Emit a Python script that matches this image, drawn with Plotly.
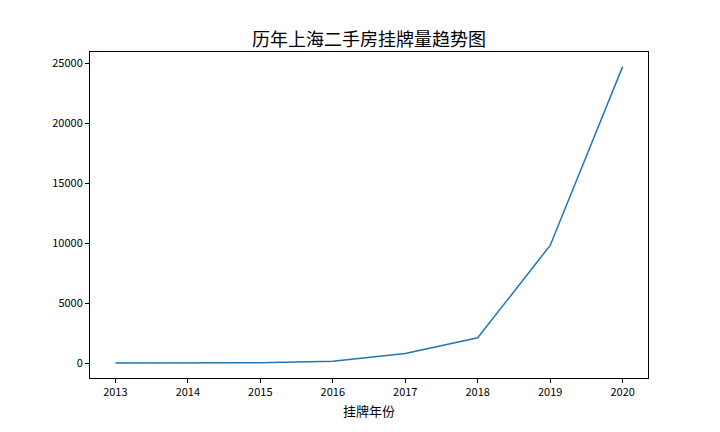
import plotly.graph_objects as go

years = [2013, 2014, 2015, 2016, 2017, 2018, 2019, 2020]
listings = [2, 5, 20, 150, 800, 2100, 9800, 24700]
y_ticks = [0, 5000, 10000, 15000, 20000, 25000]

FONT = "Noto Sans CJK SC, SimHei, sans-serif"

# the page body has an 8px default margin, so the margins are shifted by it
OFF = 8

fig = go.Figure(
    go.Scatter(
        x=years,
        y=listings,
        mode="lines",
        line=dict(color="#1f77b4", width=1.5),
        showlegend=False,
    )
)

axis_common = dict(
    showgrid=False,
    zeroline=False,
    showline=True,
    linecolor="black",
    linewidth=1,
    mirror=True,
    ticks="outside",
    ticklen=4,
    tickcolor="black",
    tickfont=dict(family=FONT, size=11, color="black"),
)

fig.update_xaxes(
    range=[2012.65, 2020.35],
    tickmode="array",
    tickvals=years,
    ticktext=[str(y) for y in years],
    title=dict(text="挂牌年份", font=dict(family=FONT, size=13, color="black"), standoff=8),
    **axis_common,
)
fig.update_yaxes(
    range=[-1250, 25920],
    tickmode="array",
    tickvals=y_ticks,
    ticktext=[str(v) for v in y_ticks],
    **axis_common,
)

fig.update_layout(
    width=720,
    height=432,
    margin=dict(l=90 - OFF, r=72 + OFF, t=52 - OFF, b=54 + OFF),
    paper_bgcolor="white",
    plot_bgcolor="white",
    title=dict(
        text="历年上海二手房挂牌量趋势图",
        font=dict(family=FONT, size=18, color="black"),
        x=0.5,
        xref="paper",
        xanchor="center",
        y=1 - (40 - OFF) / 432,
        yanchor="middle",
    ),
)

fig.write_html("out.html")
